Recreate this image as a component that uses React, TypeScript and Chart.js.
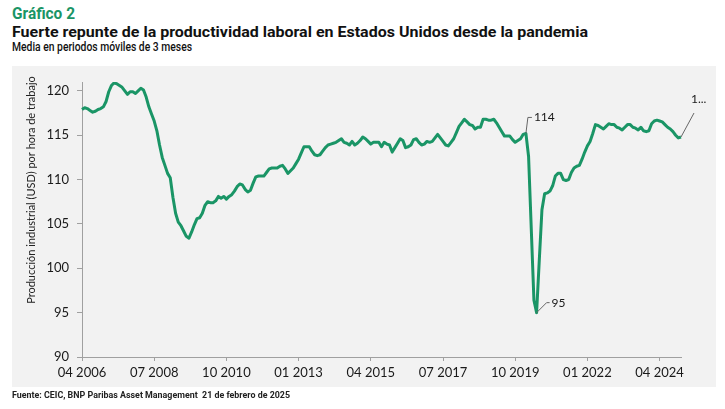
import React, { useEffect, useLayoutEffect, useRef } from 'react';
import { Chart, registerables } from 'chart.js';

Chart.register(...registerables);

// monthly 3-month moving average, Apr 2006 .. Dec 2024
const productivity: number[] = [
    117.9, 118.1, 118.0, 117.8, 117.6, 117.7, 117.9, 118.0, 118.2, 118.8, 119.9, 120.6,
    120.9, 120.8, 120.6, 120.4, 120.0, 119.6, 119.9, 119.9, 119.7, 120.0, 120.3, 120.1,
    119.3, 118.2, 117.4, 116.6, 115.5, 113.9, 112.5, 111.6, 110.7, 110.2, 108.0, 106.2,
    105.2, 104.8, 104.2, 103.6, 103.4, 104.1, 104.9, 105.6, 105.7, 106.2, 107.1, 107.5,
    107.4, 107.4, 107.6, 108.1, 107.9, 108.1, 107.8, 108.1, 108.3, 108.7, 109.2, 109.5,
    109.4, 108.9, 108.6, 108.8, 109.6, 110.3, 110.4, 110.4, 110.4, 110.8, 111.2, 111.3,
    111.3, 111.3, 111.5, 111.6, 111.2, 110.7, 111.0, 111.3, 111.8, 112.3, 113.0, 113.7,
    113.7, 113.7, 113.2, 112.8, 112.7, 112.8, 113.2, 113.6, 113.9, 114.0, 114.1, 114.2,
    114.4, 114.6, 114.2, 114.1, 113.9, 114.3, 113.9, 114.1, 114.4, 114.8, 114.6, 114.3,
    114.0, 114.2, 114.2, 114.2, 113.7, 114.2, 114.0, 113.9, 113.1, 113.6, 114.1, 114.6,
    114.4, 113.6, 113.7, 113.9, 114.5, 114.6, 114.2, 113.9, 114.0, 114.3, 114.2, 114.3,
    114.7, 115.1, 114.7, 114.3, 113.9, 113.8, 114.2, 114.6, 115.3, 116.0, 116.4, 116.8,
    116.5, 116.2, 116.1, 115.7, 115.9, 115.9, 116.8, 116.8, 116.7, 116.7, 116.8, 116.4,
    115.9, 115.4, 114.9, 114.9, 114.9, 114.5, 114.2, 114.4, 114.6, 115.1, 115.2, 112.6,
    104.5, 96.4, 95.0, 100.9, 106.6, 108.4, 108.5, 108.7, 109.3, 110.4, 110.7, 110.7,
    110.0, 109.9, 110.0, 110.8, 111.3, 111.5, 111.6, 112.3, 113.1, 113.8, 114.3, 115.2,
    116.2, 116.1, 115.9, 115.7, 116.0, 116.3, 116.2, 116.2, 115.9, 115.8, 115.6, 115.9,
    116.2, 116.2, 115.9, 115.8, 115.6, 115.9, 115.5, 115.4, 115.5, 116.3, 116.6, 116.7,
    116.6, 116.5, 116.2, 115.9, 115.7, 115.4, 115.0, 114.7, 114.8,
];

const startYear = 2006;
const startMonth = 4;
const months: string[] = productivity.map((_, i) => {
    const n = startMonth - 1 + i;
    return String((n % 12) + 1).padStart(2, '0') + ' ' + (startYear + Math.floor(n / 12));
});

const xTickLabels = ['04 2006', '07 2008', '10 2010', '01 2013', '04 2015', '07 2017', '10 2019', '01 2022', '04 2024'];
const yTicks = [90, 95, 100, 105, 110, 115, 120];

const calloutMonths = ['02 2020', '06 2020', '12 2024'];
const calloutTexts = ['114', '95', '1...'];

// leader line offsets (from the point) and text anchor, in px
const calloutPaths = [
    { line: [[2, -16], [6, -16]], text: [8, -16] },
    { line: [[10, -10], [13, -10]], text: [15, -10] },
    { line: [[13, -24]], text: [10, -38] },
];

const GREEN = '#1a9566';
const TICK_FONT = { family: 'Lato', size: 13 };

const overlayPlugin = {
    id: 'overlay',
    afterDatasetsDraw(chart: Chart) {
        const ctx = chart.ctx;
        const meta = chart.getDatasetMeta(0);
        ctx.save();
        ctx.strokeStyle = '#666';
        ctx.lineWidth = 1;
        ctx.fillStyle = '#1a1a1a';
        ctx.font = '12px Lato';
        ctx.textBaseline = 'middle';
        ctx.textAlign = 'left';
        calloutMonths.forEach((m, k) => {
            const pt = meta.data[months.indexOf(m)];
            if (!pt) return;
            const p = calloutPaths[k];
            ctx.beginPath();
            ctx.moveTo(pt.x, pt.y);
            p.line.forEach(([dx, dy]) => ctx.lineTo(pt.x + dx, pt.y + dy));
            ctx.stroke();
            ctx.fillText(calloutTexts[k], pt.x + p.text[0], pt.y + p.text[1]);
        });

        // y axis title
        ctx.translate(31, 190);
        ctx.rotate(-Math.PI / 2);
        ctx.textAlign = 'center';
        ctx.font = '11px Lato';
        ctx.fillStyle = '#222';
        ctx.fillText('Producción industrial (USD) por hora de trabajo', 0, 0);
        ctx.restore();
    },
};

const FitText: React.FC<{ width: number; style: React.CSSProperties; children: React.ReactNode }> = ({ width, style, children }) => {
    const ref = useRef<HTMLSpanElement | null>(null);
    useLayoutEffect(() => {
        const el = ref.current;
        if (!el) return;
        el.style.transform = 'none';
        const w = el.getBoundingClientRect().width;
        if (w > 0) el.style.transform = `scaleX(${width / w})`;
    }, [width]);
    return (
        <span ref={ref} style={{ position: 'absolute', whiteSpace: 'nowrap', transformOrigin: 'left top', ...style }}>
            {children}
        </span>
    );
};

const App: React.FC = () => {
    const canvasRef = useRef<HTMLCanvasElement | null>(null);
    const chartRef = useRef<Chart | null>(null);

    useEffect(() => {
        if (!canvasRef.current) return;
        if (chartRef.current) chartRef.current.destroy();

        chartRef.current = new Chart(canvasRef.current, {
            type: 'line',
            data: {
                labels: months,
                datasets: [{
                    data: productivity,
                    borderColor: GREEN,
                    borderWidth: 3,
                    borderJoinStyle: 'round',
                    pointRadius: 0,
                    tension: 0,
                    fill: false,
                }],
            },
            options: {
                animation: false,
                responsive: true,
                maintainAspectRatio: false,
                layout: { padding: { left: 0, top: 82, right: 44, bottom: 22 } },
                plugins: {
                    legend: { display: false },
                    tooltip: { enabled: false },
                },
                scales: {
                    x: {
                        type: 'category',
                        offset: false,
                        afterBuildTicks: (scale: any) => {
                            scale.ticks = scale.ticks.filter((t: any) => xTickLabels.includes(months[t.value]));
                        },
                        afterFit: (scale: any) => { scale.height = 30; },
                        grid: { drawOnChartArea: false, drawTicks: true, tickLength: 4, color: '#a0a0a0' },
                        border: { display: true, color: '#a0a0a0', width: 1 },
                        ticks: {
                            autoSkip: false,
                            maxRotation: 0,
                            padding: 4,
                            color: '#1a1a1a',
                            font: TICK_FONT,
                        },
                    },
                    y: {
                        min: 90,
                        max: 121,
                        afterBuildTicks: (scale: any) => {
                            scale.ticks = yTicks.map((v) => ({ value: v }));
                        },
                        afterFit: (scale: any) => { scale.width = 82; },
                        grid: { drawOnChartArea: false, drawTicks: true, tickLength: 5, color: '#a0a0a0' },
                        border: { display: true, color: '#a0a0a0', width: 1 },
                        ticks: {
                            padding: 8,
                            color: '#1a1a1a',
                            font: TICK_FONT,
                        },
                    },
                },
            },
            plugins: [overlayPlugin],
        });

        return () => {
            if (chartRef.current) {
                chartRef.current.destroy();
                chartRef.current = null;
            }
        };
    }, []);

    return (
        <div style={{ position: 'fixed', left: 0, top: 0, width: 725, height: 409, background: '#fff', overflow: 'hidden' }}>
            <FitText width={63} style={{ left: 12, top: 6, fontFamily: 'Roboto', fontWeight: 700, fontSize: 16, lineHeight: '16px', color: '#1a9566' }}>
                Gráfico 2
            </FitText>
            <FitText width={576} style={{ left: 12, top: 25, fontFamily: 'Roboto', fontWeight: 700, fontSize: 15, lineHeight: '15px', color: '#111' }}>
                Fuerte repunte de la productividad laboral en Estados Unidos desde la pandemia
            </FitText>
            <FitText width={180} style={{ left: 12, top: 41, fontFamily: 'Roboto', fontWeight: 500, fontSize: 12, lineHeight: '12px', color: '#111' }}>
                Media en periodos móviles de 3 meses
            </FitText>
            <div style={{ position: 'absolute', left: 12, top: 66, width: 704, height: 321, background: '#f2f2f2' }} />
            <div style={{ position: 'absolute', left: 0, top: 0, width: 725, height: 409 }}>
                <canvas ref={canvasRef} />
            </div>
            <FitText width={278} style={{ left: 12, top: 391, fontFamily: 'Roboto', fontWeight: 700, fontSize: 9, lineHeight: '9px', color: '#222' }}>
                Fuente: CEIC, BNP Paribas Asset Management&nbsp;&nbsp;21 de febrero de 2025
            </FitText>
        </div>
    );
};

export default App;
